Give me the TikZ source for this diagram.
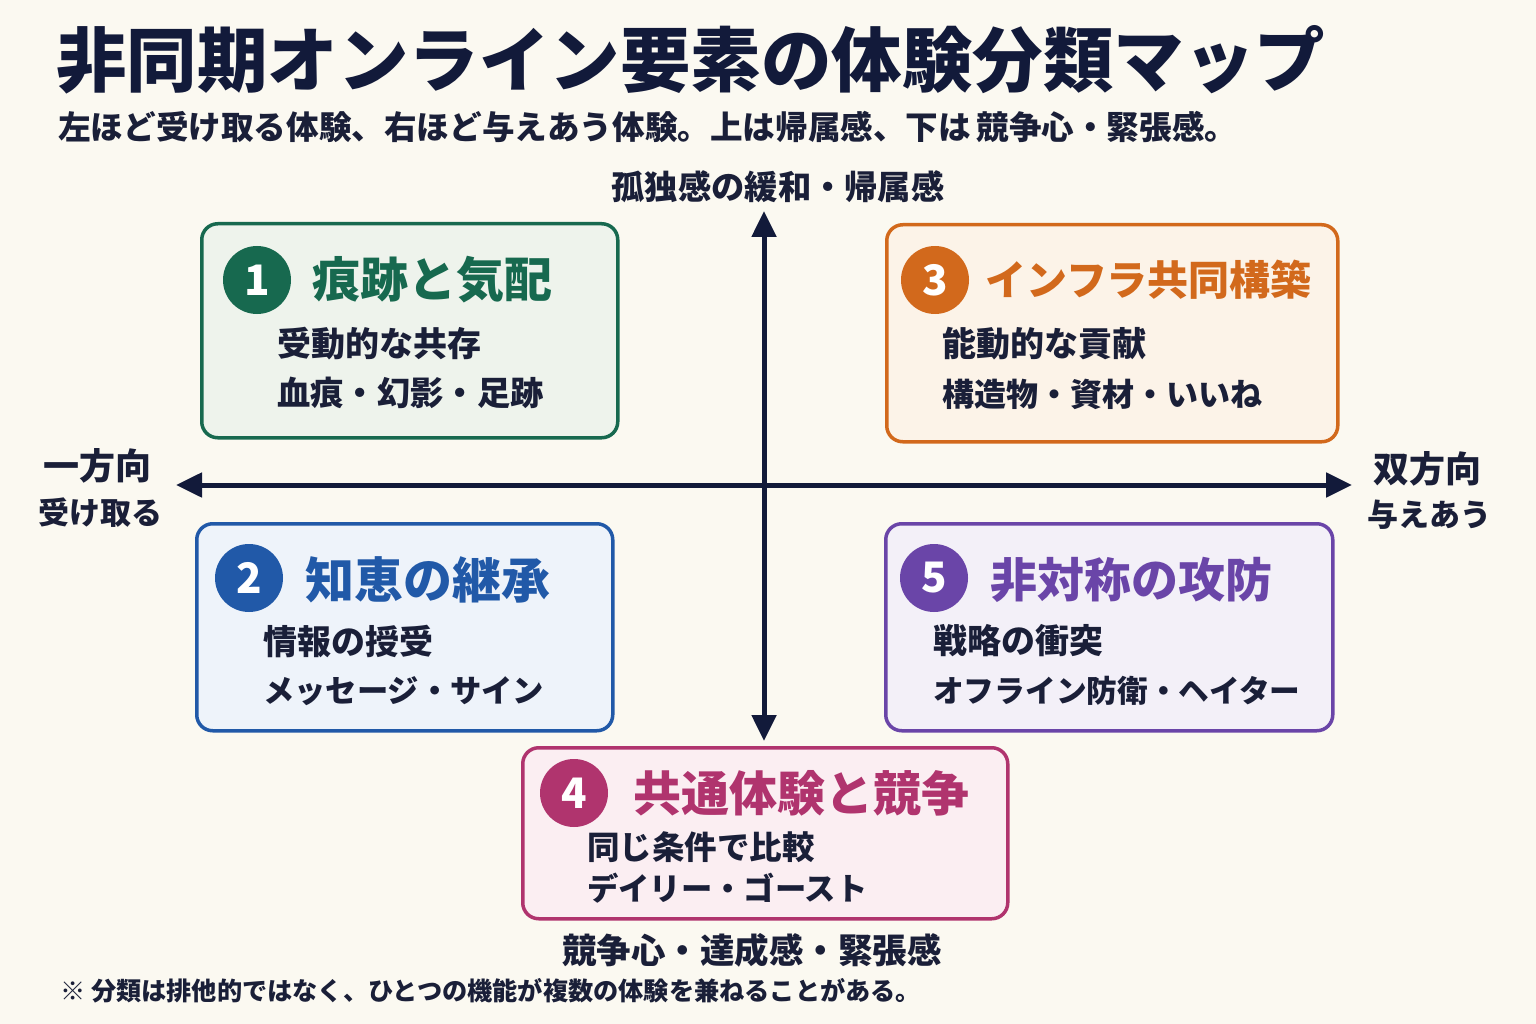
\documentclass[tikz,border=0pt]{standalone}
\usepackage{fontspec}
\setmainfont{Noto Sans CJK JP}
\usetikzlibrary{arrows.meta}
\definecolor{bg}{HTML}{FBF9F1}
\definecolor{navy}{HTML}{121A3A}
\definecolor{txt}{HTML}{1A1F38}
\definecolor{grn}{HTML}{17694F}
\definecolor{grnf}{HTML}{EEF3EC}
\definecolor{blu}{HTML}{2159A8}
\definecolor{bluf}{HTML}{EEF3FA}
\definecolor{org}{HTML}{D2691C}
\definecolor{orgf}{HTML}{FCF3E8}
\definecolor{pur}{HTML}{6A45A8}
\definecolor{purf}{HTML}{F3F0F8}
\definecolor{mag}{HTML}{B0346E}
\definecolor{magf}{HTML}{FBEEF2}
\begin{document}
\begin{tikzpicture}[x=1pt,y=-1pt,
  fs/.style={font=\fontsize{#1}{#1}\selectfont\bfseries},
  qbox/.style={draw=#1, line width=3.5pt, rounded corners=16pt, anchor=north west, inner sep=0},
  numc/.style={circle, fill=#1, text=white, minimum size=68pt, inner sep=0, fs=42},
  lab/.style={anchor=west, inner sep=0, text=txt},
  axis/.style={draw=navy, line width=5pt, arrows={Triangle[length=26pt,width=24pt]-Triangle[length=26pt,width=24pt]}}
]
\fill[bg] (0,0) rectangle (1536,1024);
\useasboundingbox (0,0) rectangle (1536,1024);

% title
\node[lab, text=navy, fs=70.5] (title) at (56,60) {非同期オンライン要素の体験分類マップ};
\node[lab, fs=32.6] (sub) at (58,127) {左ほど受け取る体験、右ほど与えあう体験。上は帰属感、下は\,競争心・緊張感。};

% axes
\coordinate (vt) at (764,211);
\coordinate (vb) at (764,741);
\coordinate (hl) at (176,485);
\coordinate (hr) at (1352,485);
\draw[axis] (vb) -- (vt);
\draw[axis] (hl) -- (hr);

\node[inner sep=0, text=txt, fs=33.3] (top) at (778,187) {孤独感の緩和・帰属感};
\node[inner sep=0, text=txt, fs=34.5] (bot) at (752,950) {競争心・達成感・緊張感};
\node[inner sep=0, text=txt, fs=36] (l1) at (97,466) {一方向};
\node[inner sep=0, text=txt, fs=31] (l2) at (100,513) {受け取る};
\node[inner sep=0, text=txt, fs=36] (r1) at (1427,469) {双方向};
\node[inner sep=0, text=txt, fs=31] (r2) at (1429,515) {与えあう};

% box 1
\node[qbox=grn, fill=grnf, minimum width=416pt, minimum height=214pt] (b1) at (200,222) {};
\node[numc=grn] (n1) at (257,280) {1};
\node[lab, text=grn, fs=48] (t1) at (312,280) {痕跡と気配};
\node[lab, fs=34] (a1) at (277,344) {受動的な共存};
\node[lab, fs=33.3] (c1) at (277,393) {血痕・幻影・足跡};

% box 3
\node[qbox=org, fill=orgf, minimum width=451pt, minimum height=217pt] (b3) at (885,223) {};
\node[numc=org] (n3) at (935,280) {3};
\node[lab, text=org, fs=41] (t3) at (985,280) {インフラ共同構築};
\node[lab, fs=34] (a3) at (942,344) {能動的な貢献};
\node[lab, fs=32] (c3) at (942,394) {構造物・資材・いいね};

% box 2
\node[qbox=blu, fill=bluf, minimum width=416pt, minimum height=207pt] (b2) at (195,522) {};
\node[numc=blu] (n2) at (249,578) {2};
\node[lab, text=blu, fs=49] (t2) at (305,580) {知恵の継承};
\node[lab, fs=34] (a2) at (263,641) {情報の授受};
\node[lab, fs=31.3] (c2) at (263,691) {メッセージ・サイン};

% box 5
\node[qbox=pur, fill=purf, minimum width=447pt, minimum height=207pt] (b5) at (884,522) {};
\node[numc=pur] (n5) at (934,578) {5};
\node[lab, text=pur, fs=47] (t5) at (990,580) {非対称の攻防};
\node[lab, fs=34] (a5) at (933,641) {戦略の衝突};
\node[lab, fs=30.7] (c5) at (933,691) {オフライン防衛・ヘイター};

% box 4
\node[qbox=mag, fill=magf, minimum width=485pt, minimum height=171pt] (b4) at (521,746) {};
\node[numc=mag] (n4) at (574,793) {4};
\node[lab, text=mag, fs=48] (t4) at (633,793) {共通体験と競争};
\node[lab, fs=32.5] (a4) at (587,847) {同じ条件で比較};
\node[lab, fs=31.3] (c4) at (587,888) {デイリー・ゴースト};

% footnote
\node[lab, fs=25.2] (note) at (60,991) {※\ 分類は排他的ではなく、ひとつの機能が複数の体験を兼ねることがある。};
\end{tikzpicture}
\end{document}
